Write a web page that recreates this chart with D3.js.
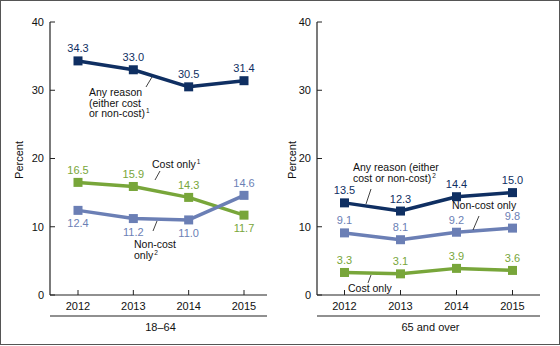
<!DOCTYPE html>
<html>
<head>
<meta charset="utf-8">
<script src="https://cdn.jsdelivr.net/npm/d3@7"></script>
<style>
  body { margin: 0; background: #fff; }
  svg { display: block; font-family: "Liberation Sans", Arial, sans-serif; }
</style>
</head>
<body>
<div id="chart"></div>
<script>
// data
const years = [`2012`, `2013`, `2014`, `2015`];
const yTicks = [0, 10, 20, 30, 40];

const anyReasonYoung = [34.3, 33.0, 30.5, 31.4];
const costOnlyYoung = [16.5, 15.9, 14.3, 11.7];
const nonCostYoung = [12.4, 11.2, 11.0, 14.6];

const anyReasonOld = [13.5, 12.3, 14.4, 15.0];
const nonCostOld = [9.1, 8.1, 9.2, 9.8];
const costOnlyOld = [3.3, 3.1, 3.9, 3.6];

const groupLabels = [`18–64`, `65 and over`];

const NAVY = `#0f2f62`;
const BLUE = `#6b7fb5`;
const GREEN = `#78a63a`;

const W = 560, H = 346;
const svg = d3.select(`#chart`).append(`svg`).attr(`width`, W).attr(`height`, H);

// outer frame
svg.append(`rect`)
  .attr(`x`, 0.5).attr(`y`, 0.5).attr(`width`, W - 1).attr(`height`, H - 2)
  .attr(`fill`, `none`).attr(`stroke`, `#555`).attr(`stroke-width`, 1);

const y = d3.scaleLinear().domain([0, 40]).range([295, 22]);

// label placement: -1 above, +1 below
let panels = [
  {
    axisX: 50, axisEnd: 267, pointRange: [78, 244], percentX: 19, group: groupLabels[0],
    series: [
      {values: anyReasonYoung, color: NAVY, place: [-1, -1, -1, -1]},
      {values: costOnlyYoung, color: GREEN, place: [-1, -1, -1, 1]},
      {values: nonCostYoung, color: BLUE, place: [1, 1, 1, -1]},
    ],
    notes: [
      {x: 89, y: 96, lines: [[`Any reason`], [`(either cost`], [`or non-cost)`, `1`]], lead: [146, 87, 152, 77]},
      {x: 152, y: 168, lines: [[`Cost only`, `1`]], lead: [155, 180, 160, 171]},
      {x: 134, y: 248, lines: [[`Non-cost`], [`only`, `2`]], lead: [153, 231, 157, 221]},
    ]
  },
  {
    axisX: 317, axisEnd: 540, pointRange: [344.5, 512.5], percentX: 292, group: groupLabels[1],
    series: [
      {values: anyReasonOld, color: NAVY, place: [-1, -1, -1, -1]},
      {values: nonCostOld, color: BLUE, place: [-1, -1, -1, -1]},
      {values: costOnlyOld, color: GREEN, place: [-1, -1, -1, -1]},
    ],
    notes: [
      {x: 353, y: 171, lines: [[`Any reason (either`], [`cost or non-cost)`, `2`]], lead: [366, 204, 371, 189]},
      {x: 452, y: 209, lines: [[`Non-cost only`]], lead: [473, 230, 479, 216]},
      {x: 348, y: 292, lines: [[`Cost only`]], lead: [368, 283, 371, 275]},
    ]
  }
];

panels.forEach((p) => {
  let g = svg.append(`g`);
  let x = d3.scalePoint().domain(years).range(p.pointRange);

  // y axis line + inward ticks
  g.append(`line`)
    .attr(`x1`, p.axisX).attr(`x2`, p.axisX).attr(`y1`, y(40)).attr(`y2`, y(0))
    .attr(`stroke`, `#222`).attr(`stroke-width`, 1.2);
  yTicks.forEach((t) => {
    g.append(`line`)
      .attr(`x1`, p.axisX).attr(`x2`, p.axisX + 5).attr(`y1`, y(t)).attr(`y2`, y(t))
      .attr(`stroke`, `#222`).attr(`stroke-width`, 1);
    g.append(`text`)
      .attr(`x`, p.axisX - 6).attr(`y`, y(t)).attr(`dy`, `0.35em`)
      .attr(`text-anchor`, `end`).attr(`font-size`, 11).attr(`fill`, `#111`)
      .text(t);
  });

  // x axis line + inward ticks
  g.append(`line`)
    .attr(`x1`, p.axisX).attr(`x2`, p.axisEnd).attr(`y1`, y(0)).attr(`y2`, y(0))
    .attr(`stroke`, `#222`).attr(`stroke-width`, 1.2);
  years.forEach((yr) => {
    g.append(`line`)
      .attr(`x1`, x(yr)).attr(`x2`, x(yr)).attr(`y1`, y(0)).attr(`y2`, y(0) - 5)
      .attr(`stroke`, `#222`).attr(`stroke-width`, 1);
    g.append(`text`)
      .attr(`x`, x(yr)).attr(`y`, 310)
      .attr(`text-anchor`, `middle`).attr(`font-size`, 11).attr(`fill`, `#111`)
      .text(yr);
  });

  // group line + label
  g.append(`line`)
    .attr(`x1`, p.axisX).attr(`x2`, p.axisEnd).attr(`y1`, 316).attr(`y2`, 316)
    .attr(`stroke`, `#222`).attr(`stroke-width`, 1.2);
  g.append(`text`)
    .attr(`x`, (p.axisX + p.axisEnd) / 2 + 2).attr(`y`, 331)
    .attr(`text-anchor`, `middle`).attr(`font-size`, 11).attr(`fill`, `#111`)
    .text(p.group);

  // y title
  g.append(`text`)
    .attr(`transform`, `translate(${p.percentX},160) rotate(-90)`)
    .attr(`dy`, `0.35em`)
    .attr(`text-anchor`, `middle`).attr(`font-size`, 11).attr(`fill`, `#111`)
    .text(`Percent`);

  // series
  let line = d3.line().x((d, i) => x(years[i])).y((d) => y(d));
  p.series.forEach((s) => {
    g.append(`path`)
      .attr(`d`, line(s.values))
      .attr(`fill`, `none`).attr(`stroke`, s.color).attr(`stroke-width`, 3.5)
      .attr(`stroke-linejoin`, `round`);
    s.values.forEach((v, i) => {
      g.append(`rect`)
        .attr(`x`, x(years[i]) - 4.5).attr(`y`, y(v) - 4.5)
        .attr(`width`, 9).attr(`height`, 9)
        .attr(`fill`, s.color);
      g.append(`text`)
        .attr(`x`, x(years[i])).attr(`y`, s.place[i] < 0 ? y(v) - 8.5 : y(v) + 17)
        .attr(`text-anchor`, `middle`).attr(`font-size`, 11).attr(`fill`, s.color)
        .text(v.toFixed(1));
    });
  });

  // annotations with leader lines
  p.notes.forEach((n) => {
    n.lines.forEach((ln, k) => {
      let t = g.append(`text`)
        .attr(`x`, n.x).attr(`y`, n.y + k * 10.5)
        .attr(`font-size`, 10.5).attr(`fill`, `#111`);
      t.append(`tspan`).text(ln[0]);
      if (ln[1]) {
        t.append(`tspan`).attr(`dy`, -4).attr(`dx`, 1).attr(`font-size`, 6.5).text(ln[1]);
      }
    });
    g.append(`line`)
      .attr(`x1`, n.lead[0]).attr(`y1`, n.lead[1]).attr(`x2`, n.lead[2]).attr(`y2`, n.lead[3])
      .attr(`stroke`, `#111`).attr(`stroke-width`, 0.8);
  });
});
</script>
</body>
</html>
